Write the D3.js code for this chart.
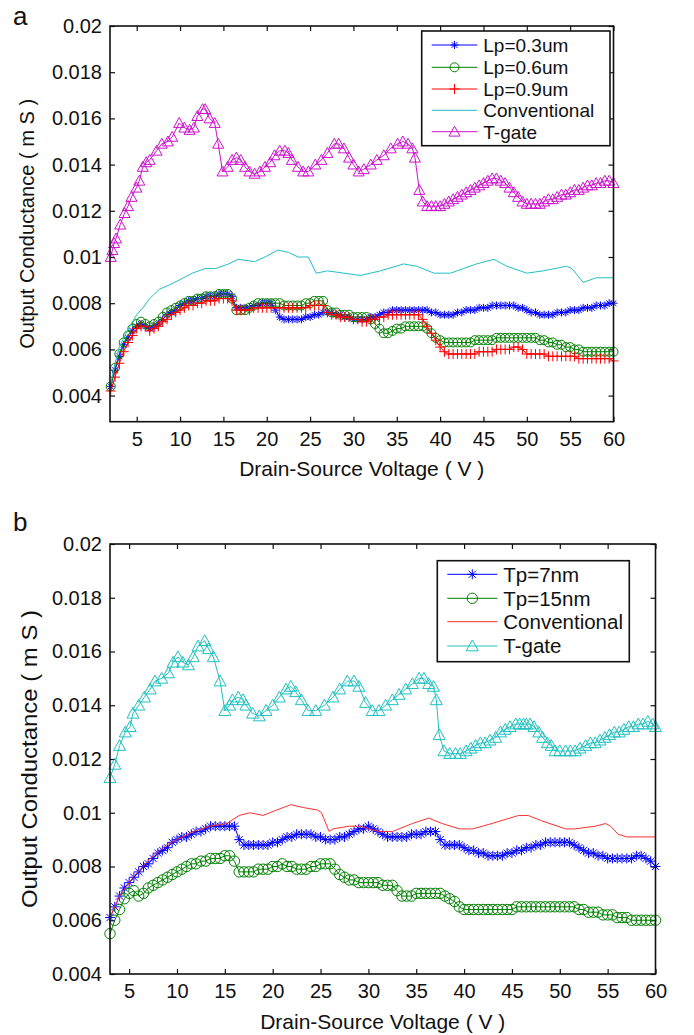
<!DOCTYPE html>
<html><head><meta charset="utf-8">
<script src="https://cdn.jsdelivr.net/npm/d3@7"></script>
<style>body{margin:0;background:#fff} svg text{font-family:"Liberation Sans",Arial,sans-serif;fill:#111}</style>
</head><body><svg id="c" width="694" height="1035"></svg>
<script>
// ---------- shared tick labels ----------
const xTicks = [5,10,15,20,25,30,35,40,45,50,55,60];
const yTicks = [0.004,0.006,0.008,0.01,0.012,0.014,0.016,0.018,0.02];
const yTickLabels = ["0.004","0.006","0.008","0.01","0.012","0.014","0.016","0.018","0.02"];

// ---------- panel a ----------
const legendA = ["Lp=0.3um","Lp=0.6um","Lp=0.9um","Conventional","T-gate"];
const xA = [2,2.5,3,3.5,4,4.5,5,5.5,6,6.5,7,7.5,8,8.5,9,9.5,10,10.5,11,11.5,12,12.5,13,13.5,14,14.5,15,15.5,16,16.5,17,17.5,18,18.5,19,19.5,20,20.5,21,21.5,22,22.5,23,23.5,24,24.5,25,25.5,26,26.5,27,27.5,28,28.5,29,29.5,30,30.5,31,31.5,32,32.5,33,33.5,34,34.5,35,35.5,36,36.5,37,37.5,38,38.5,39,39.5,40,40.5,41,41.5,42,42.5,43,43.5,44,44.5,45,45.5,46,46.5,47,47.5,48,48.5,49,49.5,50,50.5,51,51.5,52,52.5,53,53.5,54,54.5,55,55.5,56,56.5,57,57.5,58,58.5,59,59.5,60];
const lp03 = [0.0044,0.0051,0.0057,0.0062,0.0065,0.0068,0.0070,0.0071,0.0070,0.0069,
0.0070,0.0071,0.0073,0.0075,0.0076,0.0077,0.0079,0.0080,0.0081,0.0081,
0.0082,0.0082,0.0083,0.0083,0.0083,0.0084,0.0084,0.0084,0.0083,0.0078,
0.0078,0.0078,0.0078,0.0079,0.0079,0.0080,0.0080,0.0080,0.0077,0.0074,
0.0073,0.0073,0.0073,0.0073,0.0073,0.0074,0.0074,0.0075,0.0075,0.0076,
0.0076,0.0076,0.0075,0.0075,0.0074,0.0074,0.0073,0.0073,0.0073,0.0073,
0.0074,0.0074,0.0075,0.0076,0.0076,0.0077,0.0077,0.0077,0.0077,0.0077,
0.0077,0.0077,0.0077,0.0077,0.0076,0.0076,0.0075,0.0075,0.0075,0.0075,
0.0076,0.0076,0.0077,0.0077,0.0077,0.0078,0.0078,0.0078,0.0079,0.0079,
0.0079,0.0079,0.0079,0.0079,0.0078,0.0078,0.0077,0.0076,0.0076,0.0075,
0.0075,0.0075,0.0075,0.0076,0.0076,0.0076,0.0077,0.0077,0.0077,0.0078,
0.0078,0.0078,0.0079,0.0079,0.0079,0.0080,0.0080];
const lp06 = [0.0044,0.0052,0.0058,0.0063,0.0066,0.0069,0.0071,0.0072,0.0071,0.0070,
0.0071,0.0072,0.0074,0.0076,0.0077,0.0078,0.0079,0.0080,0.0081,0.0081,
0.0082,0.0082,0.0083,0.0083,0.0083,0.0084,0.0084,0.0084,0.0082,0.0077,
0.0077,0.0077,0.0078,0.0079,0.0080,0.0080,0.0080,0.0080,0.0080,0.0080,
0.0079,0.0079,0.0079,0.0079,0.0079,0.0080,0.0080,0.0081,0.0081,0.0081,
0.0077,0.0076,0.0076,0.0075,0.0075,0.0075,0.0074,0.0074,0.0074,0.0074,
0.0073,0.0071,0.0069,0.0067,0.0067,0.0068,0.0069,0.0069,0.0070,0.0070,
0.0070,0.0070,0.0070,0.0069,0.0067,0.0065,0.0064,0.0063,0.0063,0.0063,
0.0063,0.0063,0.0063,0.0063,0.0064,0.0064,0.0064,0.0064,0.0064,0.0065,
0.0065,0.0065,0.0065,0.0065,0.0065,0.0065,0.0065,0.0065,0.0065,0.0064,
0.0064,0.0063,0.0063,0.0062,0.0062,0.0061,0.0061,0.0060,0.0060,0.0059,
0.0059,0.0059,0.0059,0.0059,0.0059,0.0059,0.0059];
const lp09 = [0.0042,0.0048,0.0054,0.0059,0.0063,0.0066,0.0069,0.0070,0.0070,0.0068,
0.0069,0.0070,0.0072,0.0073,0.0075,0.0076,0.0077,0.0078,0.0079,0.0079,
0.0080,0.0080,0.0081,0.0081,0.0081,0.0082,0.0082,0.0082,0.0081,0.0077,
0.0077,0.0077,0.0077,0.0078,0.0078,0.0078,0.0078,0.0078,0.0078,0.0078,
0.0078,0.0078,0.0078,0.0078,0.0078,0.0078,0.0079,0.0079,0.0079,0.0079,
0.0076,0.0075,0.0075,0.0074,0.0074,0.0074,0.0073,0.0073,0.0072,0.0072,
0.0073,0.0073,0.0074,0.0074,0.0075,0.0075,0.0075,0.0075,0.0075,0.0075,
0.0075,0.0075,0.0073,0.0070,0.0067,0.0064,0.0061,0.0059,0.0058,0.0058,
0.0058,0.0058,0.0058,0.0058,0.0058,0.0059,0.0059,0.0059,0.0059,0.0060,
0.0060,0.0060,0.0060,0.0061,0.0061,0.0060,0.0058,0.0058,0.0058,0.0058,
0.0058,0.0057,0.0057,0.0057,0.0057,0.0057,0.0057,0.0057,0.0056,0.0056,
0.0056,0.0056,0.0056,0.0056,0.0056,0.0056,0.0055];
const convAx = [2.0,2.5,3.0,3.5,4.2,5.0,5.7,6.5,7.6,8.8,9.9,11.4,12.9,14.1,15.6,16.7,18.6,19.8,21.3,22.5,23.6,24.8,25.7,27.0,28.9,30.8,33.1,35.8,37.3,39.3,41.2,42.7,44.2,46.2,47.7,50.0,51.9,54.6,55.2,56.5,58.0,60.0];
const convAy = [0.0045,0.0054,0.0061,0.0065,0.0070,0.0075,0.0078,0.0082,0.0086,0.0088,0.0090,0.0093,0.0095,0.0095,0.0097,0.0099,0.0098,0.0100,0.0103,0.0102,0.0100,0.0100,0.0093,0.0094,0.0093,0.0092,0.0094,0.0097,0.0096,0.0093,0.0093,0.0095,0.0097,0.0099,0.0096,0.0093,0.0094,0.0096,0.0095,0.0089,0.0091,0.0091];
const tgAx = [2.0,2.2,2.4,2.62,3.1,3.6,4.0,4.4,4.97,5.3,5.7,6.1,6.5,7.3,7.9,8.6,9.1,9.9,10.5,11.1,11.6,12.0,12.6,12.9,13.4,14.0,14.4,14.9,15.5,16.0,16.5,17.0,17.5,18.0,18.6,19.2,19.8,20.4,20.9,21.5,22.1,22.5,22.9,23.6,24.2,24.8,25.6,26.3,27.0,27.8,28.3,28.9,29.5,30.0,30.6,31.2,32.0,32.7,33.5,34.3,35.1,35.7,36.3,36.8,37.1,37.6,38.0,38.5,
39,39.5,40,40.5,41,41.5,42,42.5,43,43.5,44,44.5,45,45.5,46,46.5,47,47.5,48,48.5,49,49.5,50,50.5,51,51.5,52,52.5,53,53.5,54,54.5,55,55.5,56,56.5,57,57.5,58,58.5,59,59.5,60];
const tgAy = [0.0100,0.0103,0.0106,0.0108,0.0114,0.0119,0.0122,0.0126,0.0130,0.0133,0.0139,0.0141,0.0142,0.0146,0.0149,0.0150,0.0152,0.0158,0.0156,0.0155,0.0156,0.0161,0.0164,0.0164,0.0160,0.0158,0.0149,0.0137,0.0139,0.0142,0.0143,0.0142,0.0139,0.0137,0.0136,0.0137,0.0139,0.0141,0.0144,0.0146,0.0146,0.0145,0.0142,0.0139,0.0137,0.0137,0.0140,0.0142,0.0145,0.0149,0.0149,0.0147,0.0143,0.0140,0.0137,0.0138,0.0140,0.0142,0.0144,0.0147,0.0149,0.0150,0.0149,0.0147,0.0143,0.0129,0.0124,0.0122,
0.0122,0.0122,0.0122,0.0123,0.0124,0.0125,0.0126,0.0127,0.0128,0.0129,0.0130,0.0131,0.0132,0.0133,0.0134,0.0134,0.0133,0.0132,0.0130,0.0128,0.0126,0.0124,0.0123,0.0123,0.0123,0.0123,0.0124,0.0125,0.0125,0.0126,0.0127,0.0127,0.0128,0.0129,0.0129,0.0130,0.0131,0.0131,0.0132,0.0132,0.0133,0.0133,0.0132];

// ---------- panel b ----------
const legendB = ["Tp=7nm","Tp=15nm","Conventional","T-gate"];
const xB = [3,3.5,4,4.5,5,5.5,6,6.5,7,7.5,8,8.5,9,9.5,10,10.5,11,11.5,12,12.5,13,13.5,14,14.5,15,15.5,16,16.5,17,17.5,18,18.5,19,19.5,20,20.5,21,21.5,22,22.5,23,23.5,24,24.5,25,25.5,26,26.5,27,27.5,28,28.5,29,29.5,30,30.5,31,31.5,32,32.5,33,33.5,34,34.5,35,35.5,36,36.5,37,37.5,38,38.5,39,39.5,40,40.5,41,41.5,42,42.5,43,43.5,44,44.5,45,45.5,46,46.5,47,47.5,48,48.5,49,49.5,50,50.5,51,51.5,52,52.5,53,53.5,54,54.5,55,55.5,56,56.5,57,57.5,58,58.5,59,59.5,60];
const tp7 = [0.0061,0.0065,0.0069,0.0072,0.0074,0.0076,0.0078,0.0080,0.0081,0.0083,
0.0085,0.0086,0.0087,0.0089,0.0090,0.0091,0.0091,0.0092,0.0093,0.0093,
0.0094,0.0095,0.0095,0.0095,0.0095,0.0095,0.0095,0.0090,0.0088,0.0088,
0.0088,0.0088,0.0088,0.0088,0.0089,0.0089,0.0090,0.0091,0.0091,0.0092,
0.0092,0.0092,0.0092,0.0091,0.0091,0.0090,0.0090,0.0090,0.0091,0.0091,
0.0092,0.0093,0.0094,0.0094,0.0095,0.0094,0.0093,0.0092,0.0091,0.0091,
0.0091,0.0091,0.0091,0.0092,0.0092,0.0092,0.0093,0.0093,0.0093,0.0090,
0.0088,0.0088,0.0088,0.0088,0.0087,0.0086,0.0086,0.0085,0.0085,0.0084,
0.0084,0.0084,0.0084,0.0085,0.0085,0.0086,0.0086,0.0087,0.0087,0.0088,
0.0088,0.0089,0.0089,0.0089,0.0089,0.0089,0.0089,0.0088,0.0087,0.0086,
0.0085,0.0085,0.0084,0.0084,0.0083,0.0083,0.0083,0.0083,0.0083,0.0083,
0.0084,0.0084,0.0083,0.0082,0.0080];
const tp15 = [0.0055,0.0060,0.0064,0.0068,0.0070,0.0071,0.0069,0.0070,0.0072,0.0073,
0.0074,0.0075,0.0076,0.0077,0.0078,0.0079,0.0080,0.0081,0.0081,0.0082,
0.0082,0.0083,0.0083,0.0083,0.0084,0.0084,0.0082,0.0078,0.0078,0.0078,
0.0078,0.0079,0.0079,0.0079,0.0080,0.0080,0.0081,0.0080,0.0080,0.0079,
0.0079,0.0079,0.0080,0.0080,0.0081,0.0081,0.0081,0.0079,0.0077,0.0076,
0.0075,0.0075,0.0074,0.0074,0.0074,0.0074,0.0074,0.0073,0.0073,0.0073,
0.0071,0.0069,0.0069,0.0069,0.0070,0.0070,0.0070,0.0070,0.0070,0.0070,
0.0069,0.0068,0.0067,0.0065,0.0064,0.0064,0.0064,0.0064,0.0064,0.0064,
0.0064,0.0064,0.0064,0.0064,0.0064,0.0065,0.0065,0.0065,0.0065,0.0065,
0.0065,0.0065,0.0065,0.0065,0.0065,0.0065,0.0065,0.0065,0.0064,0.0064,
0.0063,0.0063,0.0063,0.0062,0.0062,0.0062,0.0061,0.0061,0.0061,0.0060,
0.0060,0.0060,0.0060,0.0060,0.0060];
const convBx = [3.0,4.0,5.4,7.2,8.9,10.0,11.7,13.4,15.2,16.5,17.6,19.0,20.4,21.9,23.1,24.7,25.1,25.9,26.3,28.0,29.0,31.1,32.5,34.6,36.3,37.7,39.5,40.9,42.9,45.7,46.7,48.1,50.6,51.6,53.7,54.8,55.3,56.1,57.0,58.5,60.0];
const convBy = [0.0061,0.0069,0.0076,0.0083,0.0088,0.0090,0.0093,0.0095,0.0096,0.0099,0.0100,0.0099,0.0101,0.0103,0.0102,0.0101,0.0100,0.0093,0.0094,0.0095,0.0095,0.0093,0.0093,0.0096,0.0098,0.0096,0.0094,0.0094,0.0096,0.0099,0.0099,0.0097,0.0094,0.0094,0.0095,0.0096,0.0095,0.0092,0.0091,0.0091,0.0091];
const tgBx = [3.0,3.5,4.0,4.6,5.1,5.4,6.0,6.6,7.2,7.7,8.4,9.1,9.6,10.1,10.6,11.2,11.7,12.2,12.9,13.3,13.8,14.5,15.0,15.5,15.8,16.4,16.9,17.2,17.9,18.6,19.3,20.0,20.7,21.4,21.9,22.4,23.0,23.7,24.5,25.4,26.3,27.0,27.8,28.5,29.0,29.7,30.4,31.1,31.8,32.5,33.2,33.9,34.6,35.3,35.8,36.3,36.8,37.1,37.4,37.9,38.5,39.1,39.6,40.2,40.7,41.2,41.7,42.2,42.7,43.3,43.8,44.3,44.8,45.4,45.8,46.2,46.5,46.9,47.3,47.8,48.2,48.7,49.1,49.5,50.0,50.6,51.1,51.6,52.1,52.7,53.2,53.7,54.2,54.7,55.2,55.7,56.2,56.7,57.2,57.7,58.2,58.7,59.2,59.7,60.0];
const tgBy = [0.0113,0.0118,0.0125,0.0130,0.0132,0.0137,0.0140,0.0143,0.0146,0.0149,0.0150,0.0152,0.0156,0.0158,0.0156,0.0155,0.0158,0.0162,0.0164,0.0161,0.0158,0.0149,0.0138,0.0140,0.0142,0.0143,0.0142,0.0140,0.0137,0.0136,0.0138,0.0140,0.0143,0.0146,0.0147,0.0145,0.0142,0.0138,0.0138,0.0140,0.0143,0.0146,0.0149,0.0149,0.0147,0.0141,0.0138,0.0138,0.0140,0.0142,0.0144,0.0146,0.0148,0.0150,0.0150,0.0148,0.0147,0.0142,0.0129,0.0123,0.0122,0.0122,0.0122,0.0123,0.0124,0.0125,0.0126,0.0126,0.0127,0.0128,0.0130,0.0131,0.0132,0.0133,0.0133,0.0133,0.0133,0.0133,0.0132,0.0130,0.0128,0.0126,0.0125,0.0123,0.0123,0.0123,0.0123,0.0123,0.0124,0.0125,0.0126,0.0126,0.0127,0.0128,0.0129,0.0130,0.0130,0.0131,0.0132,0.0132,0.0133,0.0133,0.0134,0.0133,0.0132];

// ---------- drawing ----------
const svg = d3.select("#c");

function markerPath(type, s) {
  const p = d3.path();
  if (type === "star") {
    const d = s * 0.72;
    p.moveTo(-s,0); p.lineTo(s,0); p.moveTo(0,-s); p.lineTo(0,s);
    p.moveTo(-d,-d); p.lineTo(d,d); p.moveTo(-d,d); p.lineTo(d,-d);
  } else if (type === "plus") {
    p.moveTo(-s,0); p.lineTo(s,0); p.moveTo(0,-s); p.lineTo(0,s);
  } else if (type === "tri") {
    p.moveTo(0,-s); p.lineTo(s,s*0.8); p.lineTo(-s,s*0.8); p.closePath();
  } else if (type === "circle") {
    p.arc(0,0,s,0,Math.PI*2);
  }
  return p.toString();
}

function drawPanel(o) {
  const g = svg.append("g");
  const x = d3.scaleLinear().domain(o.xDom).range(o.xRange);
  const y = d3.scaleLinear().domain(o.yDom).range(o.yRange);
  const bottom = o.yRange[0], top = o.yRange[1], left = o.xRange[0], right = o.xRange[1];
  const lab = d => yTickLabels[yTicks.indexOf(d)];

  const ax = [
    g.append("g").attr("transform",`translate(0,${bottom})`)
      .call(d3.axisBottom(x).tickValues(xTicks).tickSize(-5).tickSizeOuter(0).tickPadding(10).tickFormat(d3.format("d"))),
    g.append("g").attr("transform",`translate(0,${top})`)
      .call(d3.axisTop(x).tickValues(xTicks).tickSize(-5).tickSizeOuter(0).tickFormat("")),
    g.append("g").attr("transform",`translate(${left},0)`)
      .call(d3.axisLeft(y).tickValues(yTicks).tickSize(-5).tickSizeOuter(0).tickPadding(8).tickFormat(lab)),
    g.append("g").attr("transform",`translate(${right},0)`)
      .call(d3.axisRight(y).tickValues(yTicks).tickSize(-5).tickSizeOuter(0).tickFormat(""))
  ];
  ax.forEach(a => {
    a.select(".domain").remove();
    a.selectAll("line").attr("stroke","#111").attr("stroke-width",1.2);
    a.selectAll("text").attr("font-size",20).attr("font-family","Liberation Sans, Arial, sans-serif").attr("fill","#111");
  });

  // series
  o.series.forEach(s => {
    const pts = s.xs.map((v,i) => [v, s.ys[i]]);
    const line = d3.line().x(d => x(d[0])).y(d => y(d[1]));
    const sg = g.append("g");
    sg.append("path").attr("d", line(pts)).attr("fill","none")
      .attr("stroke", s.color).attr("stroke-width", s.lw || 1);
    if (s.marker) {
      const mp = markerPath(s.marker, s.ms);
      sg.selectAll("path.m").data(pts).join("path").attr("class","m")
        .attr("d", mp).attr("transform", d => `translate(${x(d[0])},${y(d[1])})`)
        .attr("fill","none").attr("stroke", s.color).attr("stroke-width", 1);
    }
  });

  // frame
  g.append("rect").attr("x",left).attr("y",top).attr("width",right-left).attr("height",bottom-top)
    .attr("fill","none").attr("stroke","#111").attr("stroke-width",1.6);

  // axis titles
  g.append("text").attr("x",(left+right)/2).attr("y",o.xTitleY).attr("text-anchor","middle")
    .attr("font-size",21).text("Drain-Source Voltage ( V )");
  g.append("text").attr("transform",`translate(${o.yTitleX},${(top+bottom)/2}) rotate(-90)`)
    .attr("text-anchor","middle").attr("font-size",o.yTitleSize)
    .attr("textLength",o.yTitleLen).attr("lengthAdjust","spacingAndGlyphs")
    .text("Output Conductance ( m S )");

  // panel letter
  g.append("text").attr("x",o.letterX).attr("y",o.letterY).attr("font-size",26).text(o.letter);

  // legend
  const L = o.legend;
  g.append("rect").attr("x",L.x0).attr("y",L.y0).attr("width",L.x1-L.x0).attr("height",L.y1-L.y0)
    .attr("fill","#fff").attr("stroke","#111").attr("stroke-width",1.6);
  o.series.forEach((s,i) => {
    const ry = L.rows[i];
    const lg = g.append("g");
    lg.append("line").attr("x1",L.lx0).attr("x2",L.lx1).attr("y1",ry).attr("y2",ry)
      .attr("stroke",s.color).attr("stroke-width",s.lw || 1);
    if (s.marker) {
      lg.append("path").attr("d", markerPath(s.marker, s.ms))
        .attr("transform",`translate(${(L.lx0+L.lx1)/2},${ry})`)
        .attr("fill","none").attr("stroke",s.color).attr("stroke-width",1);
    }
    lg.append("text").attr("x",L.tx).attr("y",ry).attr("dy","0.36em")
      .attr("font-size",L.fs).text(o.names[i]);
  });
}

drawPanel({
  xDom:[1.92,60], xRange:[110,613.5],
  yDom:[0.00287,0.02], yRange:[421.7,26],
  names: legendA,
  series: [
    {xs:xA, ys:lp03, color:"#0000ff", marker:"star", ms:4},
    {xs:xA, ys:lp06, color:"#008000", marker:"circle", ms:4.5},
    {xs:xA, ys:lp09, color:"#ff0000", marker:"plus", ms:5},
    {xs:convAx, ys:convAy, color:"#20c0c4", marker:null},
    {xs:tgAx, ys:tgAy, color:"#cc11cc", marker:"tri", ms:5.5}
  ],
  xTitleY:476, yTitleX:34, yTitleSize:20, yTitleLen:250,
  letter:"a", letterX:13, letterY:25,
  legend:{x0:421.7,x1:610,y0:31,y1:145.7,rows:[45,67.3,89,110.3,131.7],lx0:431.7,lx1:477.3,tx:483.3,fs:19}
});

drawPanel({
  xDom:[3,60], xRange:[110,655.5],
  yDom:[0.004,0.02], yRange:[974,544],
  names: legendB,
  series: [
    {xs:xB, ys:tp7, color:"#0000ff", marker:"star", ms:5},
    {xs:xB, ys:tp15, color:"#008000", marker:"circle", ms:5.2},
    {xs:convBx, ys:convBy, color:"#ff3030", marker:null},
    {xs:tgBx, ys:tgBy, color:"#1fc0c0", marker:"tri", ms:6}
  ],
  xTitleY:1029, yTitleX:37, yTitleSize:22, yTitleLen:298,
  letter:"b", letterX:13, letterY:531,
  legend:{x0:437.3,x1:629.3,y0:560.7,y1:661.7,rows:[574.3,598.3,621.7,646],lx0:447.3,lx1:497.3,tx:503.3,fs:20.5}
});
</script>
</body></html>
